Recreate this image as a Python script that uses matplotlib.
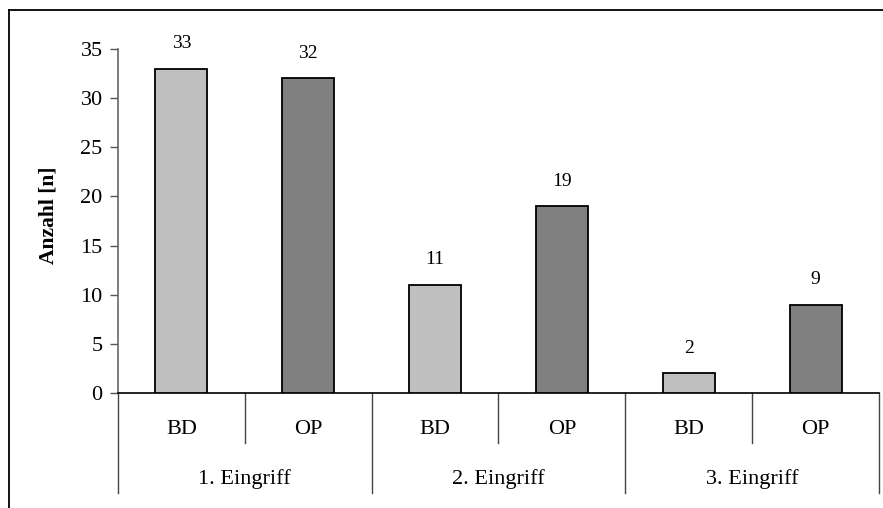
import matplotlib
matplotlib.use("Agg")
import matplotlib.pyplot as plt
from matplotlib.lines import Line2D
import matplotlib.transforms as mtransforms

plt.rcParams['font.family'] = ['Liberation Serif', 'DejaVu Serif']

groups = ["1. Eingriff", "2. Eingriff", "3. Eingriff"]
subcats = ["BD", "OP", "BD", "OP", "BD", "OP"]
values = [33, 32, 11, 19, 2, 9]
colors = ["#C0C0C0", "#808080", "#C0C0C0", "#808080", "#C0C0C0", "#808080"]
yticks = [0, 5, 10, 15, 20, 25, 30, 35]

W, H = 883, 508
fig = plt.figure(figsize=(W / 100, H / 100), dpi=100)
ax_w = 879 - 118
ax_h = 393 - 49
ax = fig.add_axes([118 / W, 1 - 393 / H, ax_w / W, ax_h / H])

x = list(range(len(values)))
ax.bar(x, values, width=0.41, color=colors, edgecolor="black", linewidth=1.3, zorder=3)
ax.set_xlim(-0.5, len(values) - 0.5)
ax.set_ylim(0, 35)
ax.set_yticks(yticks)
ax.set_yticklabels([str(t) for t in yticks], fontsize=16)
ax.tick_params(axis='y', direction='out', length=6, width=1, color="#555555", pad=5)
ax.set_xticks([])

for s in ["top", "right"]:
    ax.spines[s].set_visible(False)
ax.spines["left"].set_color("#666666")
ax.spines["left"].set_linewidth(1.2)
ax.spines["bottom"].set_color("black")
ax.spines["bottom"].set_linewidth(1.2)

for xi, v in zip(x, values):
    ax.annotate(str(v), (xi, v), xytext=(0, 18), textcoords="offset points",
                ha="center", va="center", fontsize=14)

ax.set_ylabel("Anzahl [n]", fontsize=15.5, fontweight="bold")
ax.yaxis.set_label_coords((58 - 118) / ax_w, (393 - 215) / ax_h)

trans = mtransforms.blended_transform_factory(ax.transData, ax.transAxes)
# inner separators
for i in range(len(groups)):
    xs = 2 * i + 0.5
    ax.add_line(Line2D([xs, xs], [0, -50 / ax_h], transform=trans, color="#444444",
                       lw=1, clip_on=False))
# group separators
for i in range(len(groups) + 1):
    xs = 2 * i - 0.5
    ax.add_line(Line2D([xs, xs], [0, -100 / ax_h], transform=trans, color="#444444",
                       lw=1, clip_on=False))

for xi, s in zip(x, subcats):
    ax.text(xi, -37 / ax_h, s, transform=trans, ha="center", va="center", fontsize=16)
for i, g in enumerate(groups):
    ax.text(2 * i + 0.5, -86 / ax_h, g, transform=trans, ha="center", va="center", fontsize=16)

# outer chart border (only top and left visible in image)
fig.add_artist(Line2D([8.5 / W, 1.01], [1 - 10 / H, 1 - 10 / H], transform=fig.transFigure,
                      color="black", lw=1.3))
fig.add_artist(Line2D([8.5 / W, 8.5 / W], [1 - 10 / H, -0.01], transform=fig.transFigure,
                      color="black", lw=1.3))

fig.savefig("out.png", dpi=100)
